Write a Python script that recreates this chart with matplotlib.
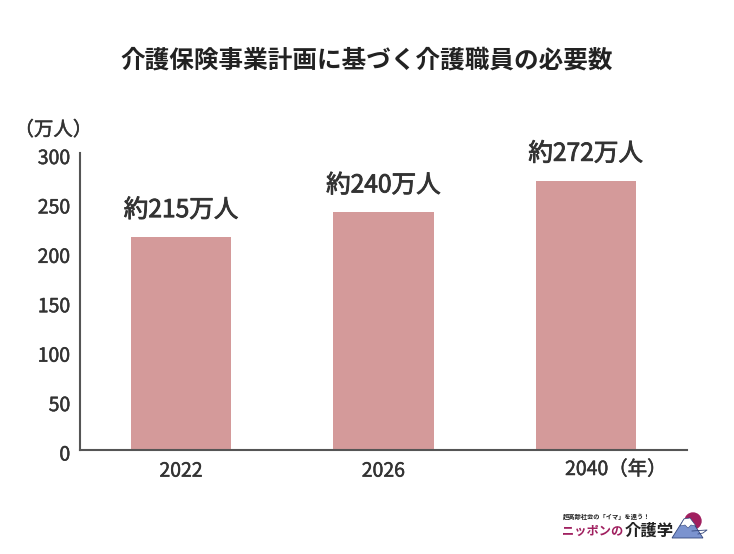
import matplotlib
matplotlib.use("Agg")
import matplotlib.pyplot as plt
import matplotlib.patheffects as pe
import matplotlib.transforms as mtrans
from matplotlib.patches import Polygon, Circle

plt.rcParams['font.family'] = ['Noto Sans CJK JP', 'DejaVu Sans']

title = "介護保険事業計画に基づく介護職員の必要数"
years = ["2022", "2026", "2040（年）"]
values = [215, 240, 272]
value_labels = ["約215万人", "約240万人", "約272万人"]
yticks = [0, 50, 100, 150, 200, 250, 300]
unit = "（万人）"

W, H = 734, 554
fig = plt.figure(figsize=(W/100, H/100), dpi=100, facecolor="white")
ax = fig.add_axes([80/W, 1-449.5/H, 607/W, 296.5/H])
ink = "#333333"
semi = [pe.withStroke(linewidth=0.35, foreground=ink)]
semi2 = [pe.withStroke(linewidth=0.6, foreground=ink)]

xs = list(range(len(years)))
ax.bar(xs, values, width=0.495, color="#d49a9a")
ax.set_xlim(-0.5, 2.5)
ax.set_ylim(0, 300)
ax.set_yticks(yticks)
ax.set_xticks(xs)
ax.set_xticklabels(["2022", "2026", ""])
ax.tick_params(length=0, labelsize=14, labelcolor=ink)
ax.tick_params(axis="y", pad=7)
ax.tick_params(axis="x", pad=8)
shift = mtrans.ScaledTranslation(0, -3/72*0.72, fig.dpi_scale_trans)
for lab in ax.get_yticklabels():
    lab.set_transform(lab.get_transform() + shift)
    lab.set_path_effects(semi)
for lab in ax.get_xticklabels():
    lab.set_path_effects(semi)
for s in ("top", "right"):
    ax.spines[s].set_visible(False)
for s in ("left", "bottom"):
    ax.spines[s].set_color("#555555")
    ax.spines[s].set_linewidth(1.5)

for x, v, t in zip(xs, values, value_labels):
    ax.annotate(t, (x, v), xytext=(0, 10), textcoords="offset points", ha="center", va="bottom",
                fontsize=17.7, color=ink, path_effects=semi2)

fig.text(367/W, 1-61/H, title, ha="center", va="center", fontsize=17.7, fontweight="bold", color="#222222")
fig.text(53.5/W, 1-130/H, unit, ha="center", va="center", fontsize=14, color=ink, path_effects=semi)
fig.text(616/W, 1-469.5/H, years[2], ha="center", va="center", fontsize=14, color=ink, path_effects=semi)

# logo
fig.text(563/W, 1-517/H, "超高齢社会の「イマ」を遠う！", ha="left", va="center", fontsize=4.5, fontweight="bold", color="#222222")
fig.text(562/W, 1-531/H, "ニッポンの", ha="left", va="center", fontsize=8.8, fontweight="bold", color="#a01f5f")
fig.text(625/W, 1-531/H, "介護学", ha="left", va="center", fontsize=11.8, fontweight="bold", color="#222222")
lax = fig.add_axes([0, 0, 1, 1], facecolor="none")
lax.set_xlim(0, W); lax.set_ylim(H, 0); lax.axis("off")
lax.add_patch(Circle((693, 521), 8, color="#a01f5f", zorder=1))
lax.add_patch(Polygon([(672, 538), (684, 519), (690, 518), (703, 538)], fc="#7b93cf", ec="#33457a", lw=0.6, zorder=2))
lax.add_patch(Polygon([(684, 519), (690, 518), (696, 526), (691, 525), (688, 528), (685, 525), (680, 526)], fc="white", ec="#33457a", lw=0.4, zorder=3))
lax.plot([692, 707, 703, 698], [531, 530, 533, 534], color="#33457a", lw=0.6, zorder=3)

fig.savefig("out.png", dpi=100, facecolor="white")
